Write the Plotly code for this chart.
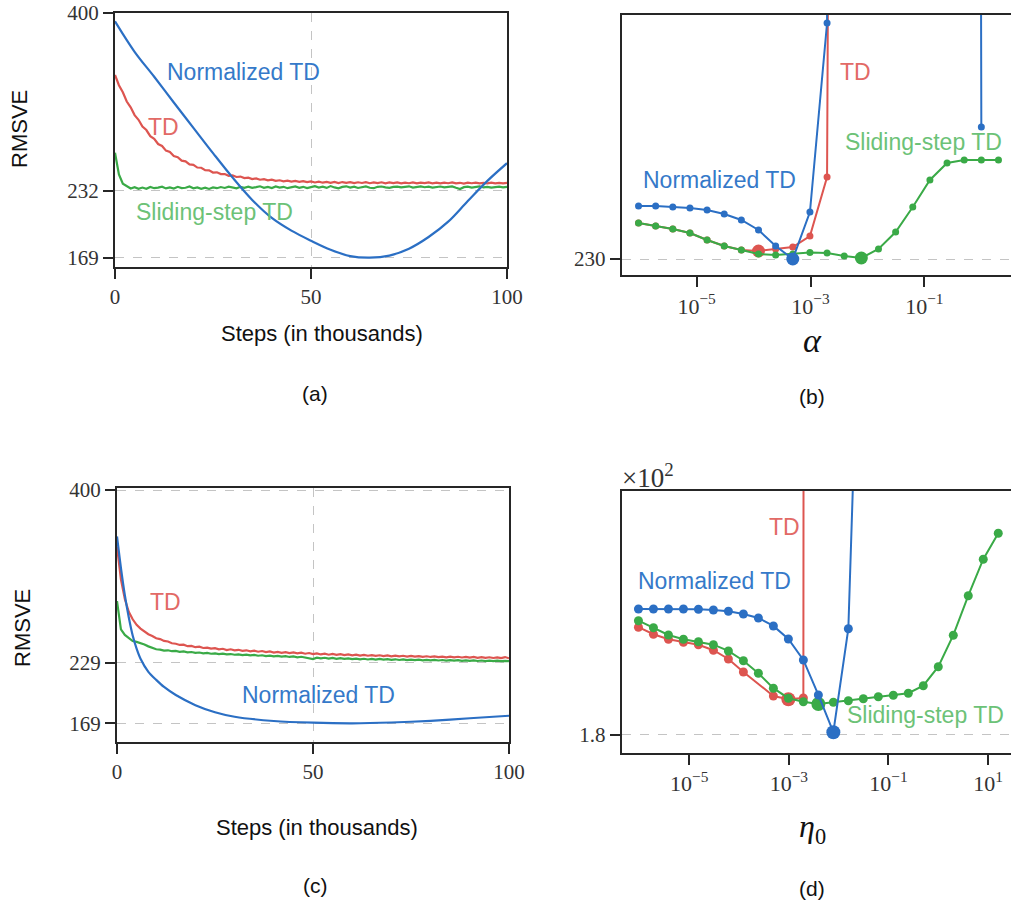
import plotly.graph_objects as go

# ---------------- data ----------------
steps = list(range(101))  # thousands of steps

a_td = [341.5, 331.8, 325.1, 316.4, 311.0, 303.6, 299.2, 292.8, 289.5, 283.7,
        281.2, 276.3, 274.5, 270.1, 268.8, 265.0, 263.9, 260.6, 259.9, 257.0,
        256.7, 254.1, 253.9, 251.6, 251.5, 249.4, 249.6, 247.9, 248.0, 246.3,
        246.7, 245.2, 245.6, 244.1, 244.5, 243.2, 243.9, 242.6, 243.1, 242.0,
        242.6, 241.5, 242.1, 241.1, 241.8, 240.8, 241.4, 240.5, 241.2, 240.3,
        241.0, 240.0, 240.8, 239.8, 240.6, 239.7, 240.5, 239.5, 240.4, 239.6,
        240.3, 239.4, 240.2, 239.5, 240.3, 239.3, 240.1, 239.4, 240.2, 239.2,
        240.0, 239.4, 240.1, 239.2, 239.9, 239.3, 240.1, 239.1, 239.9, 239.4,
        240.0, 239.2, 239.8, 239.1, 239.9, 239.3, 240.0, 239.2, 239.7, 239.0,
        239.8, 239.3, 239.9, 239.1, 239.7, 239.2, 239.8, 239.1, 239.7, 239.2,
        239.6]

a_sliding = [268.0, 247.5, 238.8, 236.2, 234.3, 235.6, 234.0, 235.2, 234.1, 235.8,
             234.6, 235.1, 236.0, 234.4, 235.3, 234.2, 235.9, 234.7, 235.0, 236.2,
             234.5, 235.4, 234.0, 235.1, 233.9, 235.3, 234.6, 235.7, 234.8, 236.0,
             235.1, 234.5, 235.9, 235.0, 236.1, 234.9, 235.6, 236.4, 235.0, 235.8,
             234.8, 236.3, 235.2, 235.9, 234.6, 235.7, 236.2, 235.0, 235.9, 234.7,
             235.4, 236.5, 235.2, 236.0, 234.9, 236.6, 235.3, 234.5, 235.8, 236.4,
             235.1, 236.0, 234.8, 235.7, 236.3, 235.0, 234.6, 235.9, 236.2, 235.4,
             234.9, 235.8, 236.1, 235.3, 235.9, 236.4, 235.2, 235.8, 236.3, 235.5,
             236.0, 235.1, 235.7, 236.2, 235.4, 235.9, 236.3, 235.0, 233.8, 235.6,
             236.1, 235.2, 235.8, 236.4, 235.3, 235.9, 235.1, 235.7, 236.0, 235.4,
             235.9]

a_norm_steps = [0, 5, 10, 15, 20, 25, 30, 35, 40, 45, 50, 55, 60, 65, 70, 75, 80, 85, 90, 95, 100]
a_norm = [392.1, 363.4, 339.8, 315.5, 291.6, 267.7, 244.6, 223.5, 206.5, 194.5,
          185.0, 176.5, 170.5, 169.0, 171.0, 177.5, 188.5, 203.0, 222.5, 241.5, 258.2]

c_td = [344.0, 311.5, 292.0, 279.5, 272.0, 266.5, 262.8, 259.6, 257.2, 255.5,
        253.2, 252.4, 250.6, 250.0, 248.3, 247.8, 246.6, 246.9, 245.4, 245.7,
        244.4, 244.9, 243.6, 244.0, 242.9, 243.5, 242.3, 242.8, 241.6, 242.3,
        241.2, 241.8, 240.7, 241.3, 240.3, 240.9, 239.9, 240.6, 239.5, 240.2,
        239.0, 239.8, 238.8, 239.5, 238.5, 239.2, 238.2, 238.9, 237.9, 238.6,
        237.5, 238.3, 237.2, 237.9, 236.9, 237.7, 236.8, 237.4, 236.5, 237.2,
        236.3, 237.0, 236.1, 236.8, 235.9, 236.6, 235.8, 236.4, 235.6, 236.2,
        235.4, 236.0, 235.3, 235.9, 235.1, 235.7, 235.0, 235.6, 234.8, 235.4,
        234.7, 235.3, 234.5, 235.1, 234.4, 235.0, 234.3, 234.9, 234.2, 234.8,
        234.0, 234.7, 233.9, 234.5, 233.8, 234.4, 233.7, 234.3, 233.5, 234.6,
        233.4]

c_sliding = [290.0, 262.0, 256.5, 253.8, 250.5, 249.6, 248.6, 247.0, 245.2, 243.8,
             242.3, 241.9, 241.0, 241.3, 240.4, 240.7, 239.8, 240.2, 239.3, 239.6,
             238.7, 239.1, 238.3, 238.7, 237.9, 238.3, 237.5, 238.0, 237.2, 237.6,
             236.9, 237.3, 236.5, 237.0, 236.2, 236.7, 235.9, 236.4, 235.6, 236.1,
             235.3, 235.8, 235.0, 235.5, 234.7, 235.2, 234.4, 234.9, 234.1, 233.4,
             232.6, 234.0, 233.3, 233.9, 233.1, 233.7, 232.9, 233.5, 232.8, 233.3,
             232.6, 233.1, 232.4, 232.9, 232.2, 232.8, 232.1, 232.7, 232.0, 232.5,
             231.9, 232.4, 231.7, 232.3, 231.6, 232.1, 231.5, 232.0, 231.4, 231.9,
             231.3, 231.8, 231.2, 231.7, 231.1, 231.6, 231.0, 231.5, 230.9, 231.4,
             230.8, 231.3, 230.7, 231.2, 230.6, 231.1, 230.6, 231.0, 230.5, 230.9,
             230.5]

c_norm_steps = [0, 1, 2, 3, 4, 5, 6, 8, 10, 12, 15, 20, 25, 30, 40, 50, 60, 70, 80, 90, 100]
c_norm = [354.0, 323.0, 296.0, 274.0, 256.0, 243.0, 233.0, 220.0, 212.0, 205.0,
          197.0, 187.0, 180.0, 175.5, 171.3, 169.6, 169.0, 169.8, 171.5, 174.0, 176.5]

# step-size sweeps (alpha for (b), eta0 for (d)); large values mark diverged runs
step_sizes = [9.5367e-7, 1.9073e-6, 3.8147e-6, 7.6294e-6, 1.5259e-5, 3.0518e-5,
              6.1035e-5, 1.2207e-4, 2.4414e-4, 4.8828e-4, 9.7656e-4, 1.9531e-3,
              3.9063e-3, 7.8125e-3, 0.015625, 0.03125, 0.0625, 0.125, 0.25, 0.5,
              1.0, 2.0, 4.0, 8.0, 16.0]

b_td = [233.6, 233.3, 233.0, 232.6, 231.9, 231.3, 230.9, 230.8, 231.0, 231.2,
        232.3, 238.2, 600.0]
b_norm = [235.3, 235.3, 235.2, 235.1, 234.9, 234.5, 233.9, 232.9, 231.3, 230.0,
          234.7, 253.6, 1000.0, 1000.0, 1000.0, 1000.0, 1000.0, 1000.0, 1000.0, 1000.0,
          243.2]
b_sliding = [233.6, 233.3, 233.0, 232.6, 231.9, 231.3, 230.9, 230.5, 230.4, 230.5,
             230.65, 230.6, 230.3, 230.1, 231.0, 232.7, 235.2, 237.9, 239.6, 239.9,
             239.9, 239.9]

# (d) values in units of 10^2
d_td_idx = [0, 1, 2, 3, 4, 5, 6, 7, 9, 10, 11, 12]
d_td = [1.8431, 1.8403, 1.8383, 1.8371, 1.8361, 1.8339, 1.8304, 1.8252, 1.8156,
        1.8143, 1.8148, 10.0]
d_norm = [1.8504, 1.8504, 1.8504, 1.8504, 1.8503, 1.8500, 1.8495, 1.8484, 1.8468,
          1.8436, 1.8384, 1.8300, 1.8160, 1.8011, 1.8425, 2.03]
d_sliding = [1.8457, 1.8429, 1.8400, 1.8383, 1.8373, 1.8361, 1.8336, 1.8297, 1.8247,
             1.8187, 1.8147, 1.8133, 1.8124, 1.8131, 1.8137, 1.8145, 1.8153, 1.8159,
             1.8167, 1.8197, 1.8273, 1.8399, 1.8557, 1.8703, 1.8807]

# ---------------- style ----------------
BLUE, RED, GREEN = "#2b6fc4", "#dd5550", "#3aaa47"
BLUE_T, RED_T, GREEN_T = "#3579c9", "#e26a66", "#6cc277"
SPINE = "#262626"
SANS = "Liberation Sans, Arial, sans-serif"
SERIF = "Liberation Serif, Times New Roman, serif"
W, H = 1011, 903

fig = go.Figure()


def line(x, y, color, xa, ya, width=2.2):
    fig.add_trace(go.Scatter(x=x, y=y, mode="lines", line=dict(color=color, width=width),
                             xaxis=xa, yaxis=ya, showlegend=False, hoverinfo="skip"))


def sweep(x, y, color, xa, ya, ms, big):
    fig.add_trace(go.Scatter(x=x, y=y, mode="lines+markers",
                             line=dict(color=color, width=2),
                             marker=dict(color=color, size=ms),
                             xaxis=xa, yaxis=ya, showlegend=False, hoverinfo="skip"))
    i = min(range(len(y)), key=lambda j: y[j])
    fig.add_trace(go.Scatter(x=[x[i]], y=[y[i]], mode="markers",
                             marker=dict(color=color, size=big),
                             xaxis=xa, yaxis=ya, showlegend=False, hoverinfo="skip"))


# (a)
line(steps, a_td, RED, "x", "y")
line(steps, a_sliding, GREEN, "x", "y")
fig.add_trace(go.Scatter(x=a_norm_steps, y=a_norm, mode="lines",
                         line=dict(color=BLUE, width=2.2, shape="spline", smoothing=1.0),
                         xaxis="x", yaxis="y", showlegend=False, hoverinfo="skip"))
# (c)
line(steps, c_td, RED, "x3", "y3")
line(steps, c_sliding, GREEN, "x3", "y3")
fig.add_trace(go.Scatter(x=c_norm_steps, y=c_norm, mode="lines",
                         line=dict(color=BLUE, width=2.2, shape="spline", smoothing=0.8),
                         xaxis="x3", yaxis="y3", showlegend=False, hoverinfo="skip"))
# (b)
sweep(step_sizes[:len(b_td)], b_td, RED, "x2", "y2", 7, 13)
sweep(step_sizes[:len(b_sliding)], b_sliding, GREEN, "x2", "y2", 7, 13)
sweep(step_sizes[:len(b_norm)], b_norm, BLUE, "x2", "y2", 7, 13)
# (d)
sweep([step_sizes[k] for k in d_td_idx], d_td, RED, "x4", "y4", 9, 14)
sweep(step_sizes[:len(d_sliding)], d_sliding, GREEN, "x4", "y4", 9, 14)
sweep(step_sizes[:len(d_norm)], d_norm, BLUE, "x4", "y4", 9, 14)

tickfont = dict(family=SERIF, size=21, color="#333333")
logtickfont = dict(family=SERIF, size=22, color="#333333")
common = dict(showline=True, mirror=True, linecolor=SPINE, linewidth=2,
              ticks="outside", ticklen=10, tickwidth=2, tickcolor=SPINE,
              zeroline=False, griddash="dash",
              gridcolor="#c4c4c4", gridwidth=1.2)


def px_x(p):
    return p / W


def px_y(p):
    return 1 - p / H


fig.update_layout(
    width=W, height=H, margin=dict(l=0, r=0, t=0, b=0),
    paper_bgcolor="white", plot_bgcolor="white", template="none",
    xaxis=dict(domain=[px_x(115), px_x(507)], range=[0, 100], anchor="y",
               tickvals=[0, 50, 100], showgrid=True, tickfont=tickfont, **common),
    yaxis=dict(domain=[px_y(267), px_y(13)], range=[160.2, 400], anchor="x",
               tickvals=[169, 232, 400], showgrid=True, tickfont=tickfont, **common),
    xaxis3=dict(domain=[px_x(117), px_x(509)], range=[0, 100], anchor="y3",
                tickvals=[0, 50, 100], showgrid=True, tickfont=tickfont, **common),
    yaxis3=dict(domain=[px_y(741.7), px_y(488.3)], range=[150.8, 401.7], anchor="x3",
                tickvals=[169, 229, 400], showgrid=True, tickfont=tickfont, **common),
    xaxis2=dict(domain=[px_x(621.7), 1.0], type="log", range=[-6.316, 0.521], anchor="y2",
                tickvals=[1e-5, 1e-3, 1e-1],
                ticktext=["10<sup>−5</sup>", "10<sup>−3</sup>", "10<sup>−1</sup>"],
                showgrid=False, tickfont=logtickfont, **common),
    yaxis2=dict(domain=[px_y(275.3), px_y(15)], range=[228.37, 254.4], anchor="x2",
                tickvals=[230], ticktext=["230"], showgrid=True, tickfont=tickfont, **common),
    xaxis4=dict(domain=[px_x(621.7), 1.0], type="log", range=[-6.357, 1.46], anchor="y4",
                tickvals=[1e-5, 1e-3, 1e-1, 10],
                ticktext=["10<sup>−5</sup>", "10<sup>−3</sup>", "10<sup>−1</sup>", "10<sup>1</sup>"],
                showgrid=False, tickfont=logtickfont, **common),
    yaxis4=dict(domain=[px_y(752.7), px_y(490.7)], range=[1.7929, 1.8977], anchor="x4",
                tickvals=[1.8], ticktext=["1.8"], showgrid=True, tickfont=tickfont, **common),
)


def note(text, x, y, color="#111111", size=23, family=SANS, angle=0, xanchor="center"):
    fig.add_annotation(text=text, x=px_x(x), y=px_y(y), xref="paper", yref="paper",
                       showarrow=False, xanchor=xanchor, yanchor="middle", textangle=angle,
                       font=dict(family=family, size=size, color=color))


# series labels
note("Normalized TD", 243.5, 72, BLUE_T)
note("TD", 163, 127, RED_T)
note("Sliding-step TD", 214, 212, GREEN_T)
note("TD", 855, 72, RED_T)
note("Normalized TD", 719.5, 180, BLUE_T)
note("Sliding-step TD", 923.5, 142, GREEN_T)
note("TD", 165.5, 602, RED_T)
note("Normalized TD", 318.5, 695, BLUE_T)
note("TD", 784, 527, RED_T)
note("Normalized TD", 714.5, 581, BLUE_T)
note("Sliding-step TD", 925.5, 715, GREEN_T)

# axis titles and panel captions
note("RMSVE", 20, 129, size=22, angle=-90)
note("RMSVE", 22, 628, size=22, angle=-90)
note("Steps (in thousands)", 322, 333, size=22)
note("Steps (in thousands)", 317, 827, size=22)
note("(a)", 315, 393, size=21)
note("(c)", 315, 885, size=21)
note("(b)", 812, 397, size=21)
note("(d)", 812, 888, size=21)
note("<i>α</i>", 812, 340, size=34, family=SERIF)
note("<i>η</i><sub>0</sub>", 812, 828, size=32, family=SERIF)
note("×10<sup>2</sup>", 620, 476, color="#333333", size=27, family=SERIF, xanchor="left")

fig.write_html("out.html")
